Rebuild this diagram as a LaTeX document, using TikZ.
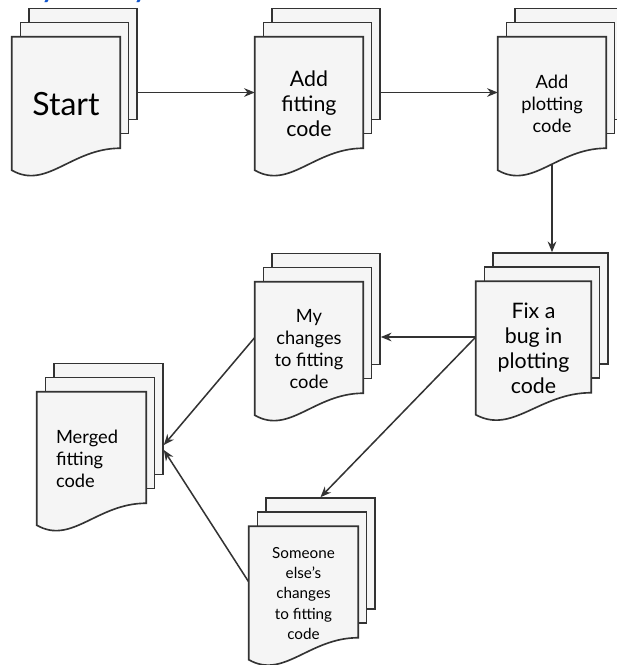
\documentclass[tikz,border=0pt]{standalone}
\usepackage{fontspec}
\setmainfont{Lato}
\usetikzlibrary{arrows.meta,calc,backgrounds}

\definecolor{trait}{HTML}{333333}
\definecolor{fond}{HTML}{F5F5F5}
\definecolor{bleu}{HTML}{1155CC}

\tikzset{
  feuille/.style={draw=trait, fill=fond, line width=1.4pt, rectangle, inner sep=0pt, minimum height=33.3mm},
  devant/.style={rectangle, inner sep=0pt, minimum height=33.3mm},
  texte/.style={align=center, inner sep=0pt},
  grand/.style={font=\fontsize{27.3}{32}\selectfont},
  moyen/.style={font=\fontsize{18.2}{21.3}\selectfont},
  petit/.style={font=\fontsize{15.6}{18.8}\selectfont},
  mini/.style={font=\fontsize{13}{17.1}\selectfont},
  fleche/.style={draw=trait, line width=1.3pt, -{Stealth[length=3.2mm,width=2.6mm]}},
}

% pile de trois documents : nom, x, y, largeur, style du texte, texte
\newcommand{\liasse}[6]{%
  \node[feuille, minimum width=#4*0.3mm] (#1-3) at (#2+17,#3-28.5) {};
  \node[feuille, minimum width=#4*0.3mm] (#1-2) at (#2+8.5,#3-14.5) {};
  \node[devant, minimum width=#4*0.3mm] (#1) at (#2,#3) {};
  \filldraw[draw=trait, fill=fond, line width=1.4pt]
    (#1.north west) -- (#1.north east) -- (#1.south east)
    .. controls ($(#1.south west)!0.55!(#1.south east)$)
    and ($(#1.south west)!0.32!(#1.south east)+(0,42)$)
    .. ($(#1.south west)+(0,22)$) -- cycle;
  \node[texte, #5] (#1-t) at ($(#1.center)+(0,11.5)$) {#6};
}

\begin{document}
\begin{tikzpicture}[x=0.3mm, y=-0.3mm]
    \useasboundingbox (0,0) rectangle (617,665);

    % Titre
    \node[anchor=base east, text=bleu, font=\fontsize{30.7}{36}\selectfont] (titre) at (194,-4) {My analysis};

    % Documents
    \liasse{start}{66}{92.5}{108}{grand}{Start}
    \liasse{fit}{309}{92.5}{108}{moyen}{Add\\fitting\\code}
    \liasse{plot}{552}{92.5}{108}{petit}{Add\\plotting\\code}
    \liasse{fix}{533.5}{337}{115}{moyen}{Fix a\\bug in\\plotting\\code}
    \liasse{my}{309}{337.5}{108}{petit}{My\\changes\\to fitting\\code}
    \liasse{merged}{91.5}{447.5}{109}{petit, align=left, xshift=-3.8pt}{Merged\\fitting\\code}
    \liasse{someone}{303.5}{582}{109}{mini}{Someone\\else’s\\changes\\to fitting\\code}

    % Fleches
    \begin{pgfonlayer}{background}
      \draw[fleche] (start-3.east |- start.east) -- (fit.west);
      \draw[fleche] (fit-3.east |- fit.east) -- (plot.west);
      \draw[fleche] (plot.center) -- (plot.center |- fix-3.north);
      \draw[fleche] (fix.west) -- (my-3.east |- fix.west);
      \draw[fleche] (fix.west) -- (someone-3.north);
      \draw[fleche] (my.west) -- ($(merged-3.east |- merged.east)+(0,-2.5)$);
      \draw[fleche] (someone.west) -- ($(merged-3.east |- merged.east)+(0,2.5)$);
    \end{pgfonlayer}
  \end{tikzpicture}
\end{document}
